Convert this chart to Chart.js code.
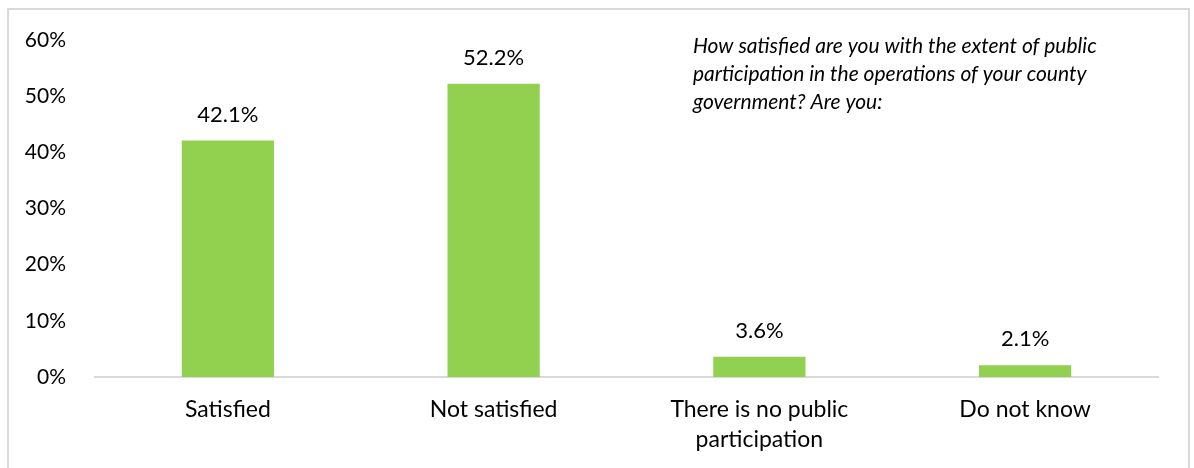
<!DOCTYPE html>
<html>
<head>
<meta charset="utf-8">
<script src="https://cdn.jsdelivr.net/npm/chart.js@4/dist/chart.umd.min.js"></script>
<style>
  html, body { margin: 0; padding: 0; background: #fff; }
  #frame {
    position: absolute; left: 7px; top: 8px; width: 1183px; height: 470px;
    border: 2px solid #d9d9d9; box-sizing: border-box;
  }
  #wrap { position: absolute; left: 0; top: 0; width: 1194px; height: 468px; }
</style>
</head>
<body>
<div id="frame"></div>
<div id="wrap"><canvas id="satisfactionChart"></canvas></div>
<script>
// Survey answers and shares (%)
const categories = ['Satisfied', 'Not satisfied', ['There is no public', 'participation'], 'Do not know'];
const shares = [42.1, 52.2, 3.6, 2.1];
const yTicks = [0, 10, 20, 30, 40, 50, 60];
const questionLines = [
    'How satisfied are you with the extent of public',
    'participation in the operations of your county',
    'government? Are you:'
];

const FONT = 'Lato, "Open Sans", sans-serif';

// Value labels above each bar
const barLabels = {
    id: 'barLabels',
    afterDatasetsDraw(chart) {
        const ctx = chart.ctx;
        const meta = chart.getDatasetMeta(0);
        ctx.save();
        ctx.fillStyle = '#000';
        ctx.font = '22px ' + FONT;
        ctx.textAlign = 'center';
        ctx.textBaseline = 'middle';
        meta.data.forEach((bar, i) => {
            ctx.fillText(shares[i].toFixed(1) + '%', bar.x, bar.y - 26);
        });
        ctx.restore();
    }
};

// Question text in the top right corner
const questionNote = {
    id: 'questionNote',
    afterDraw(chart) {
        const ctx = chart.ctx;
        ctx.save();
        ctx.fillStyle = '#000';
        ctx.font = 'italic 21px ' + FONT;
        ctx.textAlign = 'left';
        ctx.textBaseline = 'middle';
        questionLines.forEach((line, i) => {
            ctx.fillText(line, 693, 46 + i * 28);
        });
        ctx.restore();
    }
};

const ctx = document.getElementById('satisfactionChart').getContext('2d');
const satisfactionChart = new Chart(ctx, {
    type: 'bar',
    data: {
        labels: categories,
        datasets: [{
            data: shares,
            backgroundColor: '#92d050',
            borderWidth: 0,
            categoryPercentage: 1,
            barPercentage: 0.347
        }]
    },
    options: {
        responsive: true,
        maintainAspectRatio: false,
        animation: false,
        layout: { padding: { left: 0, right: 36, top: 40, bottom: 0 } },
        scales: {
            y: {
                min: 0,
                max: 60,
                afterBuildTicks: scale => {
                    scale.ticks = yTicks.map(v => ({ value: v }));
                },
                afterFit: scale => { scale.width = 95; },
                grid: { display: false },
                border: { display: false },
                ticks: {
                    padding: 21,
                    color: '#000',
                    font: { family: FONT, size: 21 },
                    callback: value => value + '%'
                }
            },
            x: {
                afterFit: scale => { scale.height = 91; },
                grid: { display: false },
                border: { display: true, color: '#d9d9d9', width: 2 },
                ticks: {
                    padding: 10,
                    color: '#000',
                    maxRotation: 0,
                    font: { family: FONT, size: 23, lineHeight: 1.3 }
                }
            }
        },
        plugins: {
            legend: { display: false },
            tooltip: { enabled: false }
        }
    },
    plugins: [barLabels, questionNote]
});
</script>
</body>
</html>
